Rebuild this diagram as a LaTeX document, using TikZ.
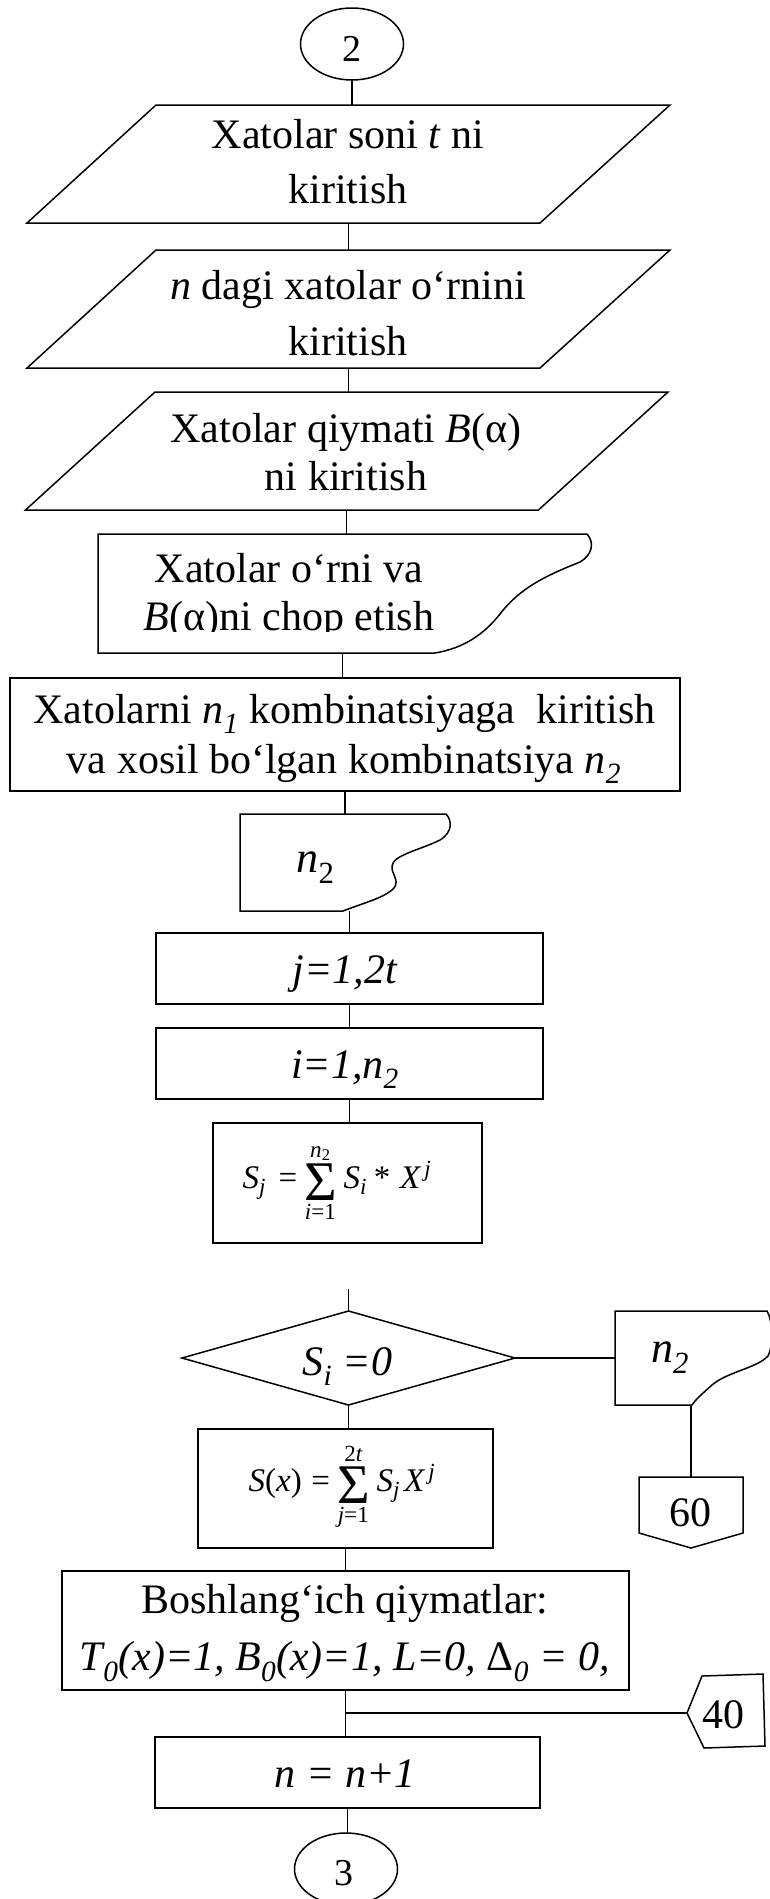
\documentclass[tikz,border=0pt]{standalone}
\usepackage{fontspec}
\setmainfont{Liberation Serif}
\usepackage{amsmath}
\usetikzlibrary{shapes.geometric}
\newcommand\iv[1]{\text{\itshape #1}}
\newcommand\uv[1]{\text{\upshape #1}}
\newcommand\bigsig{\mathop{\vcenter{\hbox{\fontsize{56}{56}\selectfont Σ}}}\limits}
\begin{document}
\begin{tikzpicture}[x=1pt,y=-1pt,line width=1.5pt,
  bx/.style 2 args={draw=none,rectangle,inner sep=0pt,outer sep=0pt,minimum width=#1pt,minimum height=#2pt},
  rb/.style 2 args={draw,rectangle,inner sep=0pt,outer sep=0pt,minimum width=#1pt,minimum height=#2pt},
  ov/.style={draw,ellipse,inner sep=0pt,outer sep=0pt,minimum width=103pt,minimum height=72pt},
  txt/.style={inner sep=0pt,anchor=base,font=\fontsize{42}{50}\selectfont},
  ftxt/.style={inner sep=0pt,font=\fontsize{33}{38}\selectfont},
  cn/.style={line width=1.4pt}]
\path[use as bounding box, fill=white] (0,0) rectangle (770,1899);

% start
\node[ov] (e2) at (352,44) {};
\node[txt,font=\fontsize{38}{44}\selectfont] at (352,61) {2};

% parallelogram 1
\node[bx={643}{118}] (p1) at (348.5,164) {};
\draw ([xshift=129pt]p1.north west) -- (p1.north east) -- ([xshift=-130pt]p1.south east) -- (p1.south west) -- cycle;
\node[txt] at (348,148) {Xatolar soni \textit{t} ni};
\node[txt] at (348,203) {kiritish};

% parallelogram 2
\node[bx={643}{118}] (p2) at (348.5,309) {};
\draw ([xshift=129pt]p2.north west) -- (p2.north east) -- ([xshift=-130pt]p2.south east) -- (p2.south west) -- cycle;
\node[txt] at (348,299) {\textit{n} dagi xatolar o‘rnini};
\node[txt] at (348,355) {kiritish};

% parallelogram 3
\node[bx={642.5}{118}] (p3) at (346.75,451) {};
\draw ([xshift=129.5pt]p3.north west) -- (p3.north east) -- ([xshift=-129.5pt]p3.south east) -- (p3.south west) -- cycle;
\node[txt] at (346,442) {Xatolar qiymati \textit{B}(α)};
\node[txt] at (346,490) {ni kiritish};

% document 1
\node[bx={489}{119}] (d1) at (342.5,593.5) {};
\draw (98,653) -- (98,534) -- (587,534) .. controls (595,543) and (592,555) .. (580,562)
  .. controls (545,576) and (520,588) .. (500,614) .. controls (485,633) and (465,648) .. (435,653) -- cycle;
\begin{scope}
\clip (90,536) rectangle (600,631);
\node[txt] at (289,582) {Xatolar o‘rni va};
\node[txt] at (289,630) {\textit{B}(α)ni chop etish};
\end{scope}

% big rectangle
\node[rb={670}{113}] (r1) at (345,734.5) {};
\node[txt] at (344.5,723) {Xatolarni \textit{n\textsubscript{1}} kombinatsiyaga\ \ kiritish};
\node[txt] at (344,773) {va xosil bo‘lgan kombinatsiya \textit{n\textsubscript{2}}};

% document 2
\node[bx={206}{97}] (d2) at (343,862.5) {};
\draw (240,911) -- (240,814) -- (446,814) .. controls (452,820) and (453,832) .. (440,840)
  .. controls (420,850) and (393,855) .. (392,866) .. controls (391,874) and (400,880) .. (394,888)
  .. controls (385,898) and (360,904) .. (343,911) -- cycle;
\node[txt,font=\fontsize{44}{50}\selectfont] at (315.5,872) {\textit{n}\textsubscript{2}};

% loops
\node[rb={387}{71}] (r2) at (349.5,968.5) {};
\node[txt] at (345,983) {\textit{j=1,2t}};
\node[rb={387}{71}] (r3) at (349.5,1063.5) {};
\node[txt] at (345,1078) {\textit{i=1,n\textsubscript{2}}};

% formula 1
\node[rb={269}{120}] (r4) at (347.5,1183) {};
\node[ftxt] at (337,1183) {$\iv{S}_{\iv{j}}\mkern4mu\mathrel{\uv{=}}\bigsig_{\iv{i}\uv{=1}}^{\iv{n}_{\uv{2}}}\mkern2mu\iv{S}_{\iv{i}}\mkern1mu\mathbin{\uv{*}}\mkern3mu\iv{X}^{\,\iv{j}}$};

% decision
\coordinate (stub) at (348.5,1289);
\node[bx={333}{94}] (dm) at (348.5,1358) {};
\draw (dm.north) -- (dm.east) -- (dm.south) -- (dm.west) -- cycle;
\node[txt] at (347.5,1375) {\textit{S\textsubscript{i} =0}};

% document 3
\node[bx={152}{94}] (d3) at (691,1358) {};
\draw (692,1405) -- (615,1405) -- (615,1311) -- (767,1311) .. controls (773,1320) and (773,1348) .. (768,1356)
  .. controls (757,1368) and (727,1372) .. (712,1385) .. controls (702,1394) and (696,1399) .. (692,1405);
\node[txt,font=\fontsize{44}{50}\selectfont] at (670,1362) {\textit{n\textsubscript{2}}};

% off-page 60
\node[bx={104}{71}] (c60) at (691,1512.5) {};
\draw (c60.north west) -- (c60.north east) -- ([yshift=15pt]c60.south east) -- (c60.south) -- ([yshift=15pt]c60.south west) -- cycle;
\node[txt] at (690,1526) {60};

% formula 2
\node[rb={295}{119}] (r5) at (345.5,1488.5) {};
\node[ftxt] at (342,1487) {$\iv{S}\uv{(}\iv{x}\uv{)}\mkern2mu\mathrel{\uv{=}}\bigsig_{\iv{j}\uv{=1}}^{\uv{2}\iv{t}}\mkern2mu\iv{S}_{\iv{j}}\mkern3mu\iv{X}^{\,\iv{j}}$};

% initial values
\node[rb={567}{119}] (r6) at (345.5,1630.5) {};
\node[txt] at (345,1613) {Boshlang‘ich qiymatlar:};
\node[txt] at (345,1670) {\textit{T\textsubscript{0}(x)=1, B\textsubscript{0}(x)=1, L=0, {\upshape Δ}\textsubscript{0} = 0,}};

% off-page 40
\node[bx={78}{74}] (c40) at (726,1711) {};
\coordinate (c40tip) at (687,1713);
\draw (c40tip) -- (702,1676) -- (763,1674) -- (765,1746) -- (704,1748) -- cycle;
\node[txt] at (723.5,1728) {40};

% n = n+1
\node[rb={385}{71}] (r7) at (347.5,1772.5) {};
\node[txt] at (345,1787) {\textit{n = n+1}};

% end
\node[ov] (e3) at (346,1869) {};
\node[txt,font=\fontsize{38}{44}\selectfont] at (344,1885) {3};

% connectors
\draw[cn] (e2.south) -- (e2.south |- p1.north);
\draw[cn] (p1.south) -- (p2.north);
\draw[cn] (p2.south) -- (p2.south |- p3.north);
\draw[cn] (p3.south) -- (p3.south |- d1.north);
\draw[cn] (d1.south) -- (d1.south |- r1.north);
\draw[cn] (r1.south) -- (r1.south |- d2.north);
\draw[cn] (r2.north |- d2.south) -- (r2.north);
\draw[cn] (r2.south) -- (r3.north);
\draw[cn] (r3.south) -- (r3.south |- r4.north);
\draw[cn] (stub) -- (dm.north);
\draw[cn] (dm.east) -- (d3.west);
\draw[cn] (c60.north |- d3.south) -- (c60.north);
\draw[cn] (dm.south) -- (dm.south |- r5.north);
\draw[cn] (r5.south) -- (r6.north);
\draw[cn] (r6.south) -- (r6.south |- r7.north);
\draw[cn] (r6.south |- c40tip) -- (c40tip);
\draw[cn] (r7.south) -- (r7.south |- e3.north);
\end{tikzpicture}
\end{document}
